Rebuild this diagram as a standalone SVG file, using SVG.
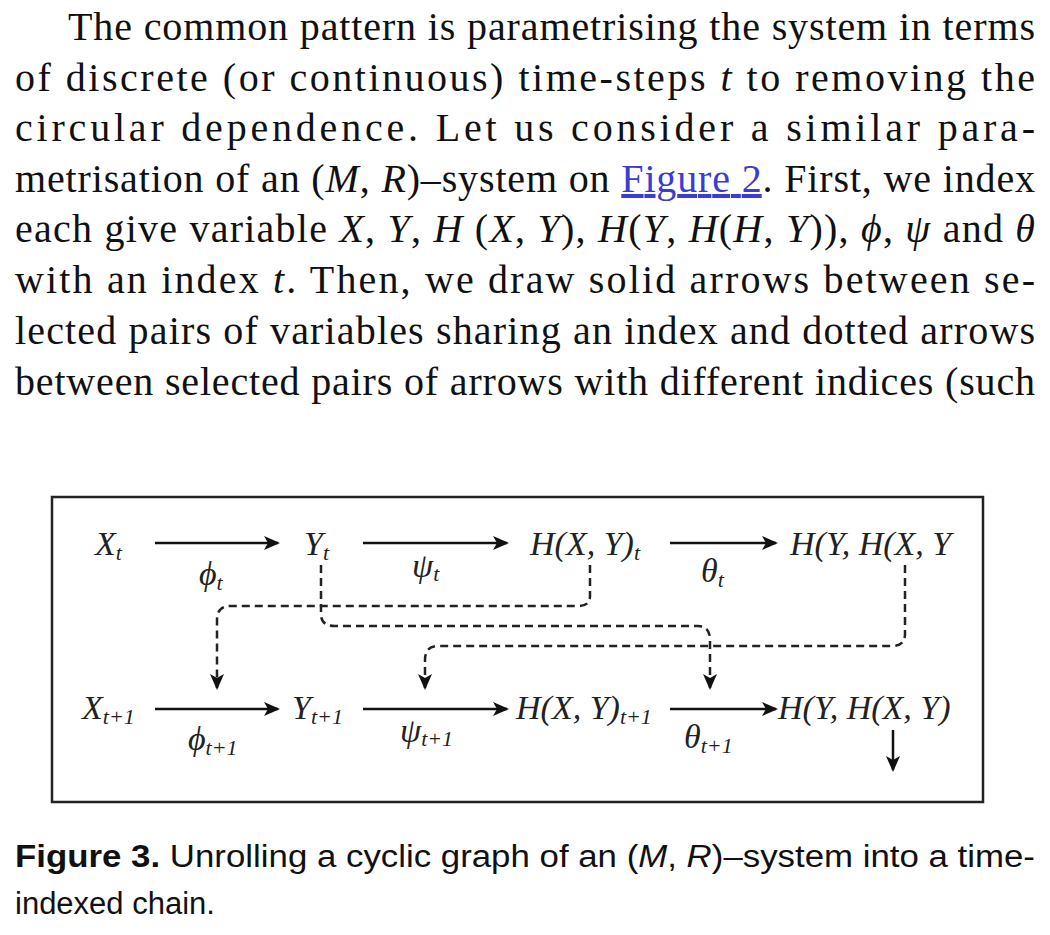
<svg xmlns="http://www.w3.org/2000/svg" width="1050" height="935" viewBox="0 0 1050 935">
<style>
.p{font-family:"Liberation Serif","Times New Roman",serif;font-size:40px;fill:#111}
.i{font-style:italic}
.m{font-family:"Liberation Serif",serif;font-style:italic;font-size:34px;fill:#222}
.s{font-size:22px}
.c{font-family:"Liberation Sans",sans-serif;font-size:31px;fill:#111}
.a{stroke:#111;stroke-width:2.5;fill:none}
.d{stroke:#222;stroke-width:2.5;fill:none;stroke-dasharray:8 5}
</style>
<defs>
<marker id="ah" markerWidth="16" markerHeight="16" refX="14" refY="8" orient="auto" markerUnits="userSpaceOnUse" viewBox="0 0 16 16"><path d="M0,1 L16,8 L0,15 L4,8 z" fill="#111"/></marker>
<marker id="ahb" markerWidth="16" markerHeight="16" refX="14" refY="8" orient="auto" markerUnits="userSpaceOnUse" viewBox="0 0 16 16"><path d="M0,1 L16,8 L0,15 L4,8 z" fill="#111"/></marker>
</defs>
<g id="text">
<text class="p" x="68" y="40" textLength="967" lengthAdjust="spacing">The common pattern is parametrising the system in terms</text>
<text class="p" x="15" y="91" textLength="1020" lengthAdjust="spacing">of discrete (or continuous) time-steps <tspan class="i">t</tspan> to removing the</text>
<text class="p" x="15" y="141" textLength="1020" lengthAdjust="spacing">circular dependence. Let us consider a similar para-</text>
<text class="p" x="15" y="192" textLength="1020" lengthAdjust="spacing">metrisation of an (<tspan class="i">M</tspan>, <tspan class="i">R</tspan>)–system on <tspan fill="#3b3bd6" text-decoration="underline">Figure 2</tspan>. First, we index</text>
<text class="p" x="15" y="242" textLength="1020" lengthAdjust="spacing">each give variable <tspan class="i">X</tspan>, <tspan class="i">Y</tspan>, <tspan class="i">H</tspan> (<tspan class="i">X</tspan>, <tspan class="i">Y</tspan>), <tspan class="i">H</tspan>(<tspan class="i">Y</tspan>, <tspan class="i">H</tspan>(<tspan class="i">H</tspan>, <tspan class="i">Y</tspan>)), <tspan class="i">ϕ</tspan>, <tspan class="i">ψ</tspan> and <tspan class="i">θ</tspan></text>
<text class="p" x="15" y="293" textLength="1020" lengthAdjust="spacing">with an index <tspan class="i">t</tspan>. Then, we draw solid arrows between se-</text>
<text class="p" x="15" y="344" textLength="1020" lengthAdjust="spacing">lected pairs of variables sharing an index and dotted arrows</text>
<text class="p" x="15" y="395" textLength="1020" lengthAdjust="spacing">between selected pairs of arrows with different indices (such</text>
</g>
<rect x="52" y="497" width="931" height="305" fill="none" stroke="#222" stroke-width="2.5"/>
<g id="nodes">
<g id="n-xt"><text class="m" x="95" y="555">X<tspan class="s" dy="5">t</tspan></text></g>
<g id="n-yt"><text class="m" x="304" y="555">Y<tspan class="s" dy="5">t</tspan></text></g>
<g id="n-ht"><text class="m" x="530" y="555">H(X, Y)<tspan class="s" dy="5">t</tspan></text></g>
<g id="n-hht"><text class="m" x="790" y="555">H(Y, H(X, Y</text></g>
<g id="n-xt1"><text class="m" x="82" y="719">X<tspan class="s" dy="5">t+1</tspan></text></g>
<g id="n-yt1"><text class="m" x="292" y="719">Y<tspan class="s" dy="5">t+1</tspan></text></g>
<g id="n-ht1"><text class="m" x="516" y="719">H(X, Y)<tspan class="s" dy="5">t+1</tspan></text></g>
<g id="n-hht1"><text class="m" x="778" y="719">H(Y, H(X, Y)</text></g>
</g>
<g id="connectors">
<line class="a" x1="155" y1="543" x2="278" y2="543" marker-end="url(#ah)"/>
<line class="a" x1="363" y1="543" x2="507" y2="543" marker-end="url(#ah)"/>
<line class="a" x1="670" y1="543" x2="776" y2="543" marker-end="url(#ah)"/>
<line class="a" x1="155" y1="709" x2="278" y2="709" marker-end="url(#ah)"/>
<line class="a" x1="363" y1="709" x2="507" y2="709" marker-end="url(#ah)"/>
<line class="a" x1="670" y1="709" x2="776" y2="709" marker-end="url(#ah)"/>
<line class="a" x1="893" y1="730" x2="893" y2="770" marker-end="url(#ahb)"/>
<path class="d" d="M590,565 V596 Q590,606 578,606 H230 Q217,606 217,620 V688" marker-end="url(#ahb)"/>
<path class="d" d="M321,565 V614 Q321,626 335,626 H698 Q710,626 710,640 V688" marker-end="url(#ahb)"/>
<path class="d" d="M905,565 V634 Q905,646 892,646 H438 Q425,646 425,660 V688" marker-end="url(#ahb)"/>
<text class="m" x="199" y="585">ϕ<tspan class="s" dy="5">t</tspan></text>
<text class="m" x="412" y="577" font-size="26">ψ<tspan class="s" dy="4">t</tspan></text>
<text class="m" x="701" y="582">θ<tspan class="s" dy="5">t</tspan></text>
<text class="m" x="188" y="750">ϕ<tspan class="s" dy="5">t+1</tspan></text>
<text class="m" x="400" y="742" font-size="26">ψ<tspan class="s" dy="4">t+1</tspan></text>
<text class="m" x="684" y="748">θ<tspan class="s" dy="5">t+1</tspan></text>
</g>
<g id="caption">
<text class="c" x="15" y="867" textLength="1020" lengthAdjust="spacingAndGlyphs"><tspan font-weight="bold">Figure 3.</tspan> Unrolling a cyclic graph of an (<tspan font-style="italic">M</tspan>, <tspan font-style="italic">R</tspan>)–system into a time-</text>
<text class="c" x="15" y="914">indexed chain.</text>
</g>
</svg>
